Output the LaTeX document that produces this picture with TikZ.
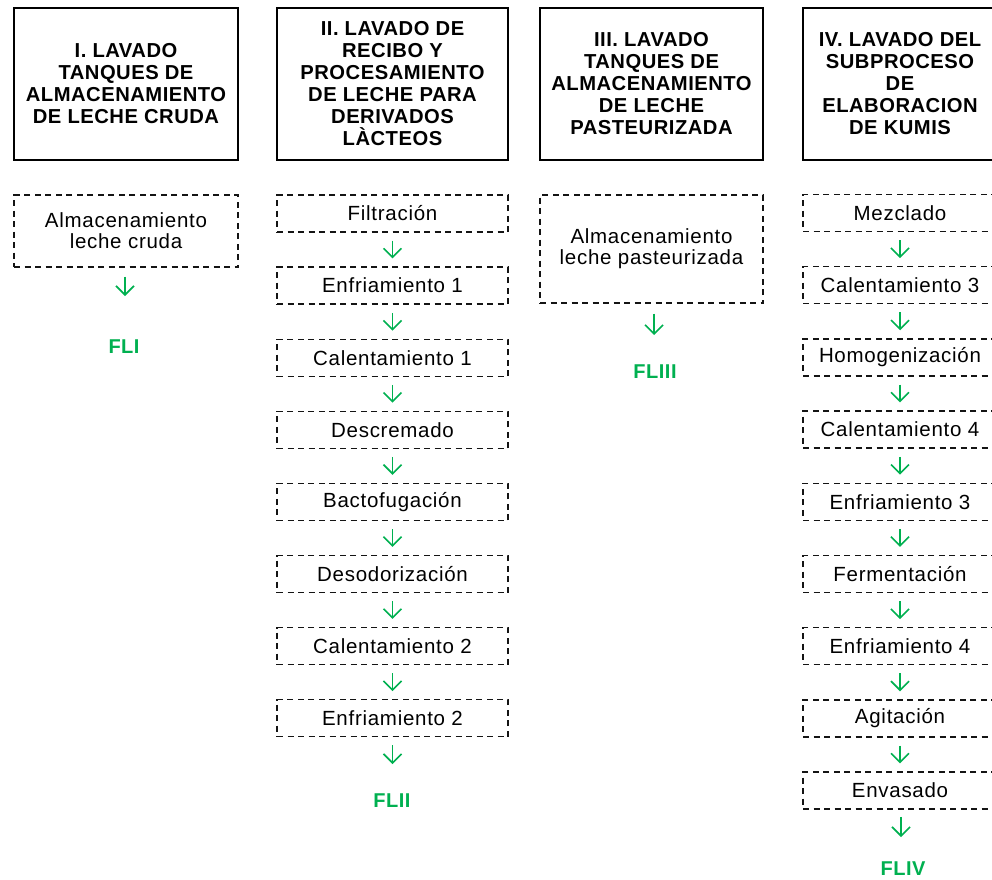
\documentclass[tikz,border=0pt]{standalone}
\usepackage{fontspec}
\setmainfont{Liberation Sans}
\newfontfamily\hdrfont{Liberation Sans}[LetterSpace=2.5]
\newfontfamily\bodyfont{Liberation Sans}[LetterSpace=3.5]
\usetikzlibrary{arrows.meta}
\definecolor{flowgreen}{RGB}{0,176,80}
\definecolor{framegray}{RGB}{20,20,20}

\tikzset{
  header/.style={draw=black, line width=1.5pt, inner sep=0pt, align=center,
    font=\hdrfont\bfseries\fontsize{20.2}{22}\selectfont, text=black,
    minimum height=152pt},
  stage/.style={draw=framegray, line width=1.3pt, dash pattern=on 6pt off 4.5pt,
    inner sep=0pt, align=center,
    font=\bodyfont\fontsize{20.5}{21}\selectfont, text=black},
  flowlabel/.style={anchor=base, inner sep=0pt, text=flowgreen,
    font=\hdrfont\bfseries\fontsize{20}{22}\selectfont},
  flow/.style={draw=flowgreen, line width=1.6pt,
    -{Straight Barb[length=9pt,width=18pt]}},
  between/.style={flow, shorten <=8pt, shorten >=8pt},
  colI/.style={minimum width=224pt},
  colII/.style={minimum width=231pt},
  colIII/.style={minimum width=223pt},
  colIV/.style={minimum width=194pt}
}

\begin{document}
\begin{tikzpicture}[x=1pt,y=-1pt]
\clip (0,0) rectangle (992,879);

% ---- column headers ----
\node[header, colI]   (h1) at (126,84)   {I. LAVADO\\TANQUES DE\\ALMACENAMIENTO\\DE LECHE CRUDA};
\node[header, colII]  (h2) at (392.5,84) {II. LAVADO DE\\RECIBO Y\\PROCESAMIENTO\\DE LECHE PARA\\DERIVADOS\\LÀCTEOS};
\node[header, colIII] (h3) at (651.5,84) {III. LAVADO\\TANQUES DE\\ALMACENAMIENTO\\DE LECHE\\PASTEURIZADA};
\node[header, colIV]  (h4) at (900,84)   {IV. LAVADO DEL\\SUBPROCESO\\DE\\ELABORACION\\DE KUMIS};

% ---- column I ----
\node[stage, colI, minimum height=72pt] (a1) at (126,231) {Almacenamiento\\leche cruda};
\coordinate (a1end) at (125,296);
\draw[flow, shorten <=9pt] (a1.south -| a1end) -- (a1end);
\node[flowlabel] (fl1) at (124,353) {FLI};

% ---- column II ----
\foreach \name/\txt [count=\i from 0] in {
  b1/Filtración, b2/Enfriamiento 1, b3/Calentamiento 1, b4/Descremado,
  b5/Bactofugación, b6/Desodorización, b7/Calentamiento 2, b8/Enfriamiento 2}{
  \node[stage, colII, minimum height=37pt] (\name) at (392.5,213.5+72.1*\i) {\txt};
}
\foreach \a/\b in {b1/b2, b2/b3, b3/b4, b4/b5, b5/b6, b6/b7, b7/b8}
  \draw[between] (\a) -- (\b);
\coordinate (b8end) at (392.5,764);
\draw[flow, shorten <=8pt] (b8) -- (b8end);
\node[flowlabel] (fl2) at (392,807) {FLII};

% ---- column III ----
\node[stage, colIII, minimum height=108pt] (c1) at (651.5,249) {Almacenamiento\\leche pasteurizada};
\coordinate (c1end) at (654,335);
\draw[flow, shorten <=10pt] (c1.south -| c1end) -- (c1end);
\node[flowlabel] (fl3) at (655,378) {FLIII};

% ---- column IV ----
\foreach \name/\txt [count=\i from 0] in {
  d1/Mezclado, d2/Calentamiento 3, d3/Homogenización, d4/Calentamiento 4,
  d5/Enfriamiento 3, d6/Fermentación, d7/Enfriamiento 4, d8/Agitación,
  d9/Envasado}{
  \node[stage, colIV, minimum height=37pt] (\name) at (900,213+72.2*\i) {\txt};
}
\foreach \a/\b in {d1/d2, d2/d3, d3/d4, d4/d5, d5/d6, d6/d7, d7/d8, d8/d9}
  \draw[between] (\a) -- (\b);
\coordinate (d9end) at (901,837);
\draw[flow, shorten <=7pt] (d9.south -| d9end) -- (d9end);
\node[flowlabel] (fl4) at (903,875) {FLIV};
\end{tikzpicture}
\end{document}
